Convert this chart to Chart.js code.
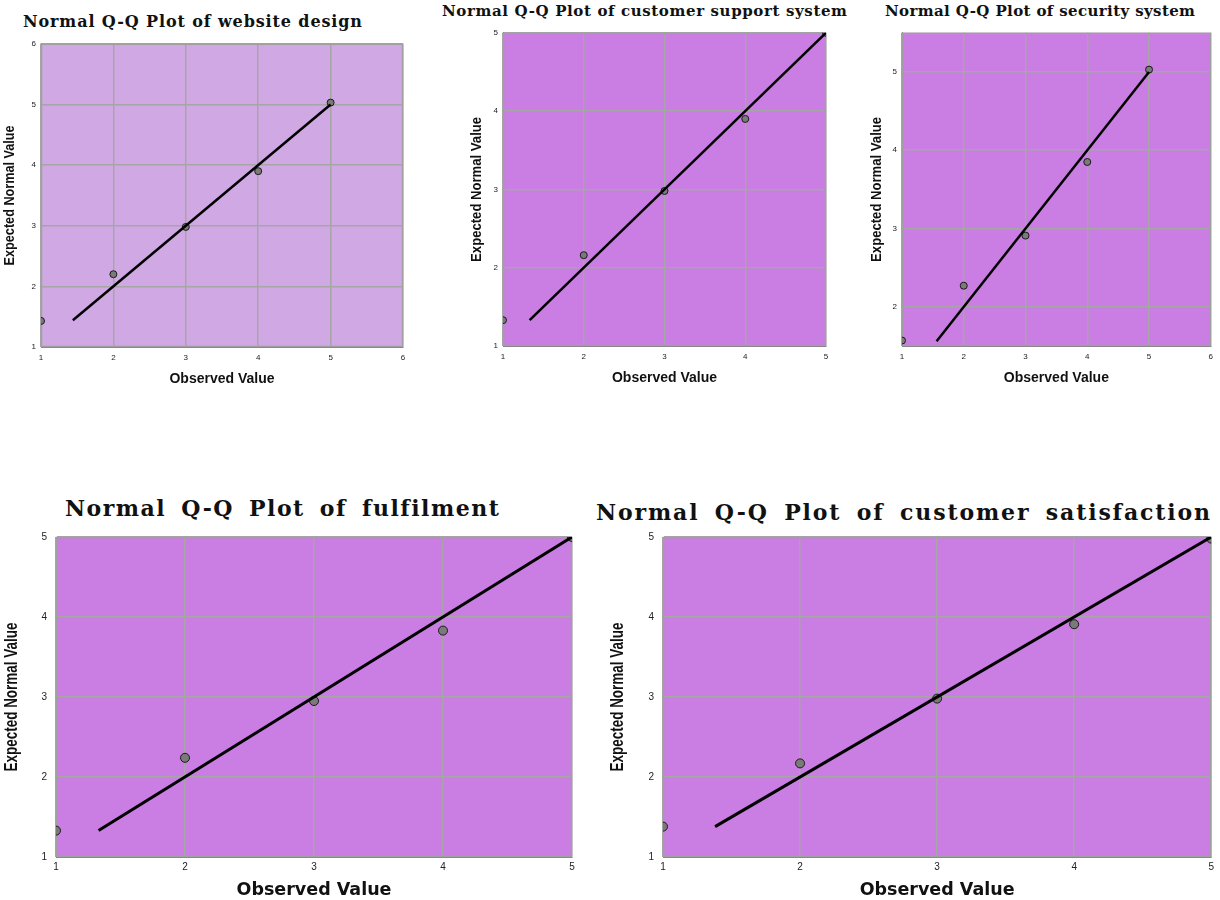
<!DOCTYPE html>
<html>
<head>
<meta charset="utf-8">
<script src="https://cdn.jsdelivr.net/npm/chart.js@4.4.1/dist/chart.umd.min.js"></script>
<style>
  body { margin: 0; background: #fff; width: 1220px; height: 900px; position: relative; overflow: hidden; }
  canvas { position: absolute; }
  .ttl { position: absolute; font-family: "DejaVu Serif", serif; font-weight: bold; color: #111;
         white-space: nowrap; line-height: 1; }
</style>
</head>
<body>
<div class="ttl" data-w="339" style="left:23px;top:14px;font-size:16px;">Normal Q-Q Plot of website design</div>
<div class="ttl" data-w="405" style="left:442px;top:4px;font-size:15px;">Normal Q-Q Plot of customer support system</div>
<div class="ttl" data-w="310" style="left:885px;top:4px;font-size:15px;">Normal Q-Q Plot of security system</div>
<div class="ttl" data-w="432" style="left:65px;top:497px;font-size:22px;word-spacing:6px;">Normal Q-Q Plot of fulfilment</div>
<div class="ttl" data-w="614" style="left:596px;top:501px;font-size:22px;word-spacing:6px;">Normal Q-Q Plot of customer satisfaction</div>

<canvas id="c1" width="420" height="358" style="left:0;top:34px"></canvas>
<canvas id="c2" width="371" height="368" style="left:465px;top:23px"></canvas>
<canvas id="c3" width="354" height="368" style="left:865px;top:23px"></canvas>
<canvas id="c4" width="580" height="381" style="left:0;top:522px"></canvas>
<canvas id="c5" width="614" height="381" style="left:604px;top:522px"></canvas>

<script>
// observed values (same for every variable)
const observed = [1, 2, 3, 4, 5];

// expected normal values
const websiteDesign = [1.43, 2.2, 2.98, 3.9, 5.03];
const supportSystem = [1.33, 2.16, 2.98, 3.9, 5.0];
const securitySystem = [1.57, 2.27, 2.91, 3.85, 5.03];
const fulfilment = [1.33, 2.24, 2.95, 3.83, 5.0];
const satisfaction = [1.38, 2.17, 2.98, 3.91, 4.98];

// reference line start / end (x = y)
const websiteLine = [1.44, 5];
const supportLine = [1.33, 5];
const securityLine = [1.56, 5];
const fulfilmentLine = [1.33, 5];
const satisfactionLine = [1.38, 5];

// tick labels
const ticks1to6 = [1, 2, 3, 4, 5, 6];
const ticks1to5 = [1, 2, 3, 4, 5];
const ticks2to5 = [2, 3, 4, 5];

// stretch titles to the width they have in the original
document.querySelectorAll('.ttl').forEach(el => {
    const target = parseFloat(el.dataset.w);
    const w = el.getBoundingClientRect().width;
    const n = el.textContent.length - 1;
    el.style.letterSpacing = ((target - w) / n) + 'px';
});

// paint plot background and frame
const plotFrame = {
    id: 'plotFrame',
    beforeDraw(chart, args, opts) {
        const a = chart.chartArea, ctx = chart.ctx;
        ctx.save();
        ctx.fillStyle = opts.color;
        ctx.fillRect(a.left, a.top, a.right - a.left, a.bottom - a.top);
        ctx.restore();
    },
    beforeDatasetsDraw(chart) {
        const a = chart.chartArea, ctx = chart.ctx;
        ctx.save();
        ctx.strokeStyle = '#a0a0a0';
        ctx.lineWidth = 1.5;
        ctx.strokeRect(a.left + 0.5, a.top + 0.5, a.right - a.left - 1, a.bottom - a.top - 1);
        ctx.restore();
    }
};

// condensed vertical axis title (SPSS style)
const yTitle = {
    id: 'yTitle',
    afterDraw(chart, args, opts) {
        const a = chart.chartArea, ctx = chart.ctx;
        ctx.save();
        ctx.font = 'bold ' + opts.size + 'px "Liberation Sans", Arial, sans-serif';
        const w = ctx.measureText(opts.text).width;
        ctx.translate(opts.x, (a.top + a.bottom) / 2);
        ctx.rotate(-Math.PI / 2);
        ctx.scale(opts.length / w, 1);
        ctx.fillStyle = '#111';
        ctx.textAlign = 'center';
        ctx.textBaseline = 'middle';
        ctx.fillText(opts.text, 0, 0);
        ctx.restore();
    }
};

function makeChart(id, o) {
    const pts = observed.map((x, i) => ({ x: x, y: o.values[i] }));
    const line = o.line.map(v => ({ x: v, y: v }));

    return new Chart(document.getElementById(id), {
        type: 'scatter',
        data: {
            datasets: [
                {
                    data: line,
                    showLine: true,
                    borderColor: '#000',
                    borderWidth: o.lineWidth,
                    pointRadius: 0,
                    clip: 0,
                    order: 0
                },
                {
                    data: pts,
                    pointRadius: o.radius,
                    backgroundColor: '#7a7a7a',
                    borderColor: '#1a1a1a',
                    borderWidth: 1,
                    clip: 0,
                    order: 1
                }
            ]
        },
        options: {
            responsive: false,
            animation: false,
            layout: { autoPadding: false, padding: { left: 0, right: o.padRight, top: 0, bottom: 0 } },
            plugins: {
                legend: { display: false },
                tooltip: { enabled: false },
                plotFrame: { color: o.bg },
                yTitle: { text: 'Expected Normal Value', x: o.yTitleX, size: o.yTitleSize, length: o.yTitleLen }
            },
            scales: {
                x: {
                    type: 'linear',
                    min: o.xMin, max: o.xMax,
                    afterBuildTicks: s => { s.ticks = o.xTicks.map(v => ({ value: v })); },
                    afterFit: s => { s.height = o.xHeight; },
                    grid: { color: '#a6a6a6', lineWidth: 1.5, drawTicks: false },
                    border: { color: '#808080' },
                    ticks: { color: '#222', padding: o.xPad, font: { family: 'Liberation Sans', size: o.tickSize } },
                    title: {
                        display: true, text: 'Observed Value', color: '#111',
                        padding: { top: 0, bottom: o.xTitlePad },
                        font: { family: o.xFont, size: o.xTitleSize, weight: 'bold' }
                    }
                },
                y: {
                    type: 'linear',
                    min: o.yMin, max: o.yMax,
                    afterBuildTicks: s => { s.ticks = o.yTicks.map(v => ({ value: v })); },
                    afterFit: s => { s.width = o.yWidth; },
                    grid: { color: '#a6a6a6', lineWidth: 1.5, drawTicks: false },
                    border: { color: '#808080' },
                    ticks: { color: '#222', padding: o.yPad, font: { family: 'Liberation Sans', size: o.tickSize } }
                }
            }
        },
        plugins: [plotFrame, yTitle]
    });
}

const small = { tickSize: 8, xPad: 6, yPad: 5, xHeight: 45, xTitleSize: 14, xTitlePad: 4,
                yTitleSize: 14, xFont: 'Liberation Sans', radius: 3.5, lineWidth: 2.5 };
const big = { tickSize: 10, xPad: 4, yPad: 9, xHeight: 46, xTitleSize: 17.5, xTitlePad: 2,
              yTitleSize: 18, yTitleLen: 149, xFont: 'DejaVu Sans', radius: 4.5, lineWidth: 3 };

makeChart('c1', Object.assign({}, small, {
    values: websiteDesign, line: websiteLine, bg: '#d0a8e4',
    xMin: 1, xMax: 6, yMin: 1, yMax: 6, xTicks: ticks1to6, yTicks: ticks1to6,
    yWidth: 41, padRight: 17, yTitleX: 10, yTitleLen: 140
}));

makeChart('c2', Object.assign({}, small, {
    values: supportSystem, line: supportLine, bg: '#ca7de3',
    xMin: 1, xMax: 5, yMin: 1, yMax: 5, xTicks: ticks1to5, yTicks: ticks1to5,
    yWidth: 38, padRight: 10, yTitleX: 12, yTitleLen: 145
}));

makeChart('c3', Object.assign({}, small, {
    values: securitySystem, line: securityLine, bg: '#ca7de3',
    xMin: 1, xMax: 6, yMin: 1.5, yMax: 5.5, xTicks: ticks1to6, yTicks: ticks2to5,
    yWidth: 37, padRight: 2, yTitleX: 12, yTitleLen: 145
}));

makeChart('c4', Object.assign({}, big, {
    values: fulfilment, line: fulfilmentLine, bg: '#ca7de3',
    xMin: 1, xMax: 5, yMin: 1, yMax: 5, xTicks: ticks1to5, yTicks: ticks1to5,
    yWidth: 56, padRight: 8, yTitleX: 12
}));

makeChart('c5', Object.assign({}, big, {
    values: satisfaction, line: satisfactionLine, bg: '#ca7de3',
    xMin: 1, xMax: 5, yMin: 1, yMax: 5, xTicks: ticks1to5, yTicks: ticks1to5,
    yWidth: 59, padRight: 2, yTitleX: 14
}));
</script>
</body>
</html>
